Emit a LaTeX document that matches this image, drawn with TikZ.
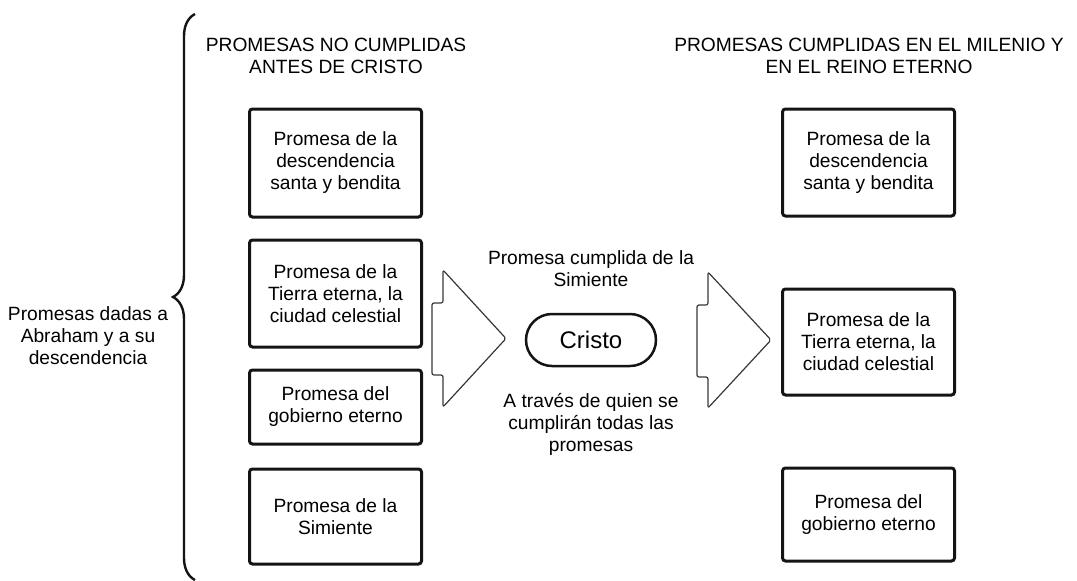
\documentclass[tikz,border=0pt]{standalone}
\usepackage{fontspec}
\setmainfont{Liberation Sans}
\usepackage{xcolor}
\usepackage{tikz}
\usetikzlibrary{
  decorations.pathreplacing,
  positioning
}
\definecolor{boxink}{RGB}{20,20,20}
\definecolor{arrowink}{RGB}{55,55,55}
\tikzset{
  promesa/.style={draw=boxink,line width=1.5pt,rounded corners=1.5pt,
    align=center,inner sep=2pt,minimum width=86pt,
    font=\fontsize{9.6}{11}\selectfont},
  cristobox/.style={draw=boxink,line width=1.25pt,rounded corners=13pt,
    minimum width=65pt,minimum height=26pt,inner sep=0pt,
    font=\fontsize{12}{14}\selectfont},
  header/.style={align=center,inner sep=1pt,
    font=\fontsize{9.6}{11}\selectfont},
  lab/.style={align=center,inner sep=1pt,
    font=\fontsize{9.6}{11}\selectfont},
  bigarrow/.style={draw=arrowink,line width=0.6pt,rounded corners=1pt,
    line join=round},
  bracket/.style={draw=boxink,line width=1.2pt,decorate,
    decoration={brace,amplitude=11pt}}
}
\begin{document}
\begin{tikzpicture}[x=0.5pt,y=-0.5pt,node distance=10pt]
  \useasboundingbox (0,0) rectangle (1077,580);
  % left column
  \node[header] (hleft) at (336,56) {PROMESAS NO CUMPLIDAS\\ANTES DE CRISTO};
  \node[promesa,minimum height=54pt] (l1) at (335.5,163)
    {Promesa de la\\descendencia\\santa y bendita};
  \node[promesa,minimum height=53.5pt,below=of l1] (l2)
    {Promesa de la\\Tierra eterna, la\\ciudad celestial};
  \node[promesa,minimum height=37pt,below=of l2] (l3)
    {Promesa del\\gobierno eterno};
  \node[promesa,minimum height=47.5pt,below=11pt of l3] (l4)
    {Promesa de la\\Simiente};
  % right column
  \node[header] (hright) at (869,56) {PROMESAS CUMPLIDAS EN EL MILENIO Y\\EN EL REINO ETERNO};
  \node[promesa,minimum height=53.5pt] (r1) at (868.5,162.5)
    {Promesa de la\\descendencia\\santa y bendita};
  \node[promesa,minimum height=53pt,below=35pt of r1] (r2)
    {Promesa de la\\Tierra eterna, la\\ciudad celestial};
  \node[promesa,minimum height=46.5pt,below=35pt of r2] (r3)
    {Promesa del\\gobierno eterno};
  % centre
  \node[cristobox] (cristo) at (591,340) {Cristo};
  \node[lab] (cumplida) at (591,269) {Promesa cumplida de la\\Simiente};
  \node[lab] (atraves) at (591,424) {A través de quien se\\cumplirán todas las\\promesas};
  % brace and its label
  \node[lab] (dadas) at (88,336) {Promesas dadas a\\Abraham y a su\\descendencia};
  \coordinate (bracebot) at (195,580);
  \coordinate (bracetop) at (195,14);
  \draw[bracket] (bracebot) -- (bracetop);
  % block arrows
  \draw[bigarrow] (432,303) -- (443,303) -- (443,270) -- (506,338.5)
    -- (443,407) -- (443,375) -- (432,375) -- cycle;
  \draw[bigarrow] (697,305) -- (708,305) -- (708,272) -- (771,340)
    -- (708,408) -- (708,377) -- (697,377) -- cycle;
\end{tikzpicture}
\end{document}
